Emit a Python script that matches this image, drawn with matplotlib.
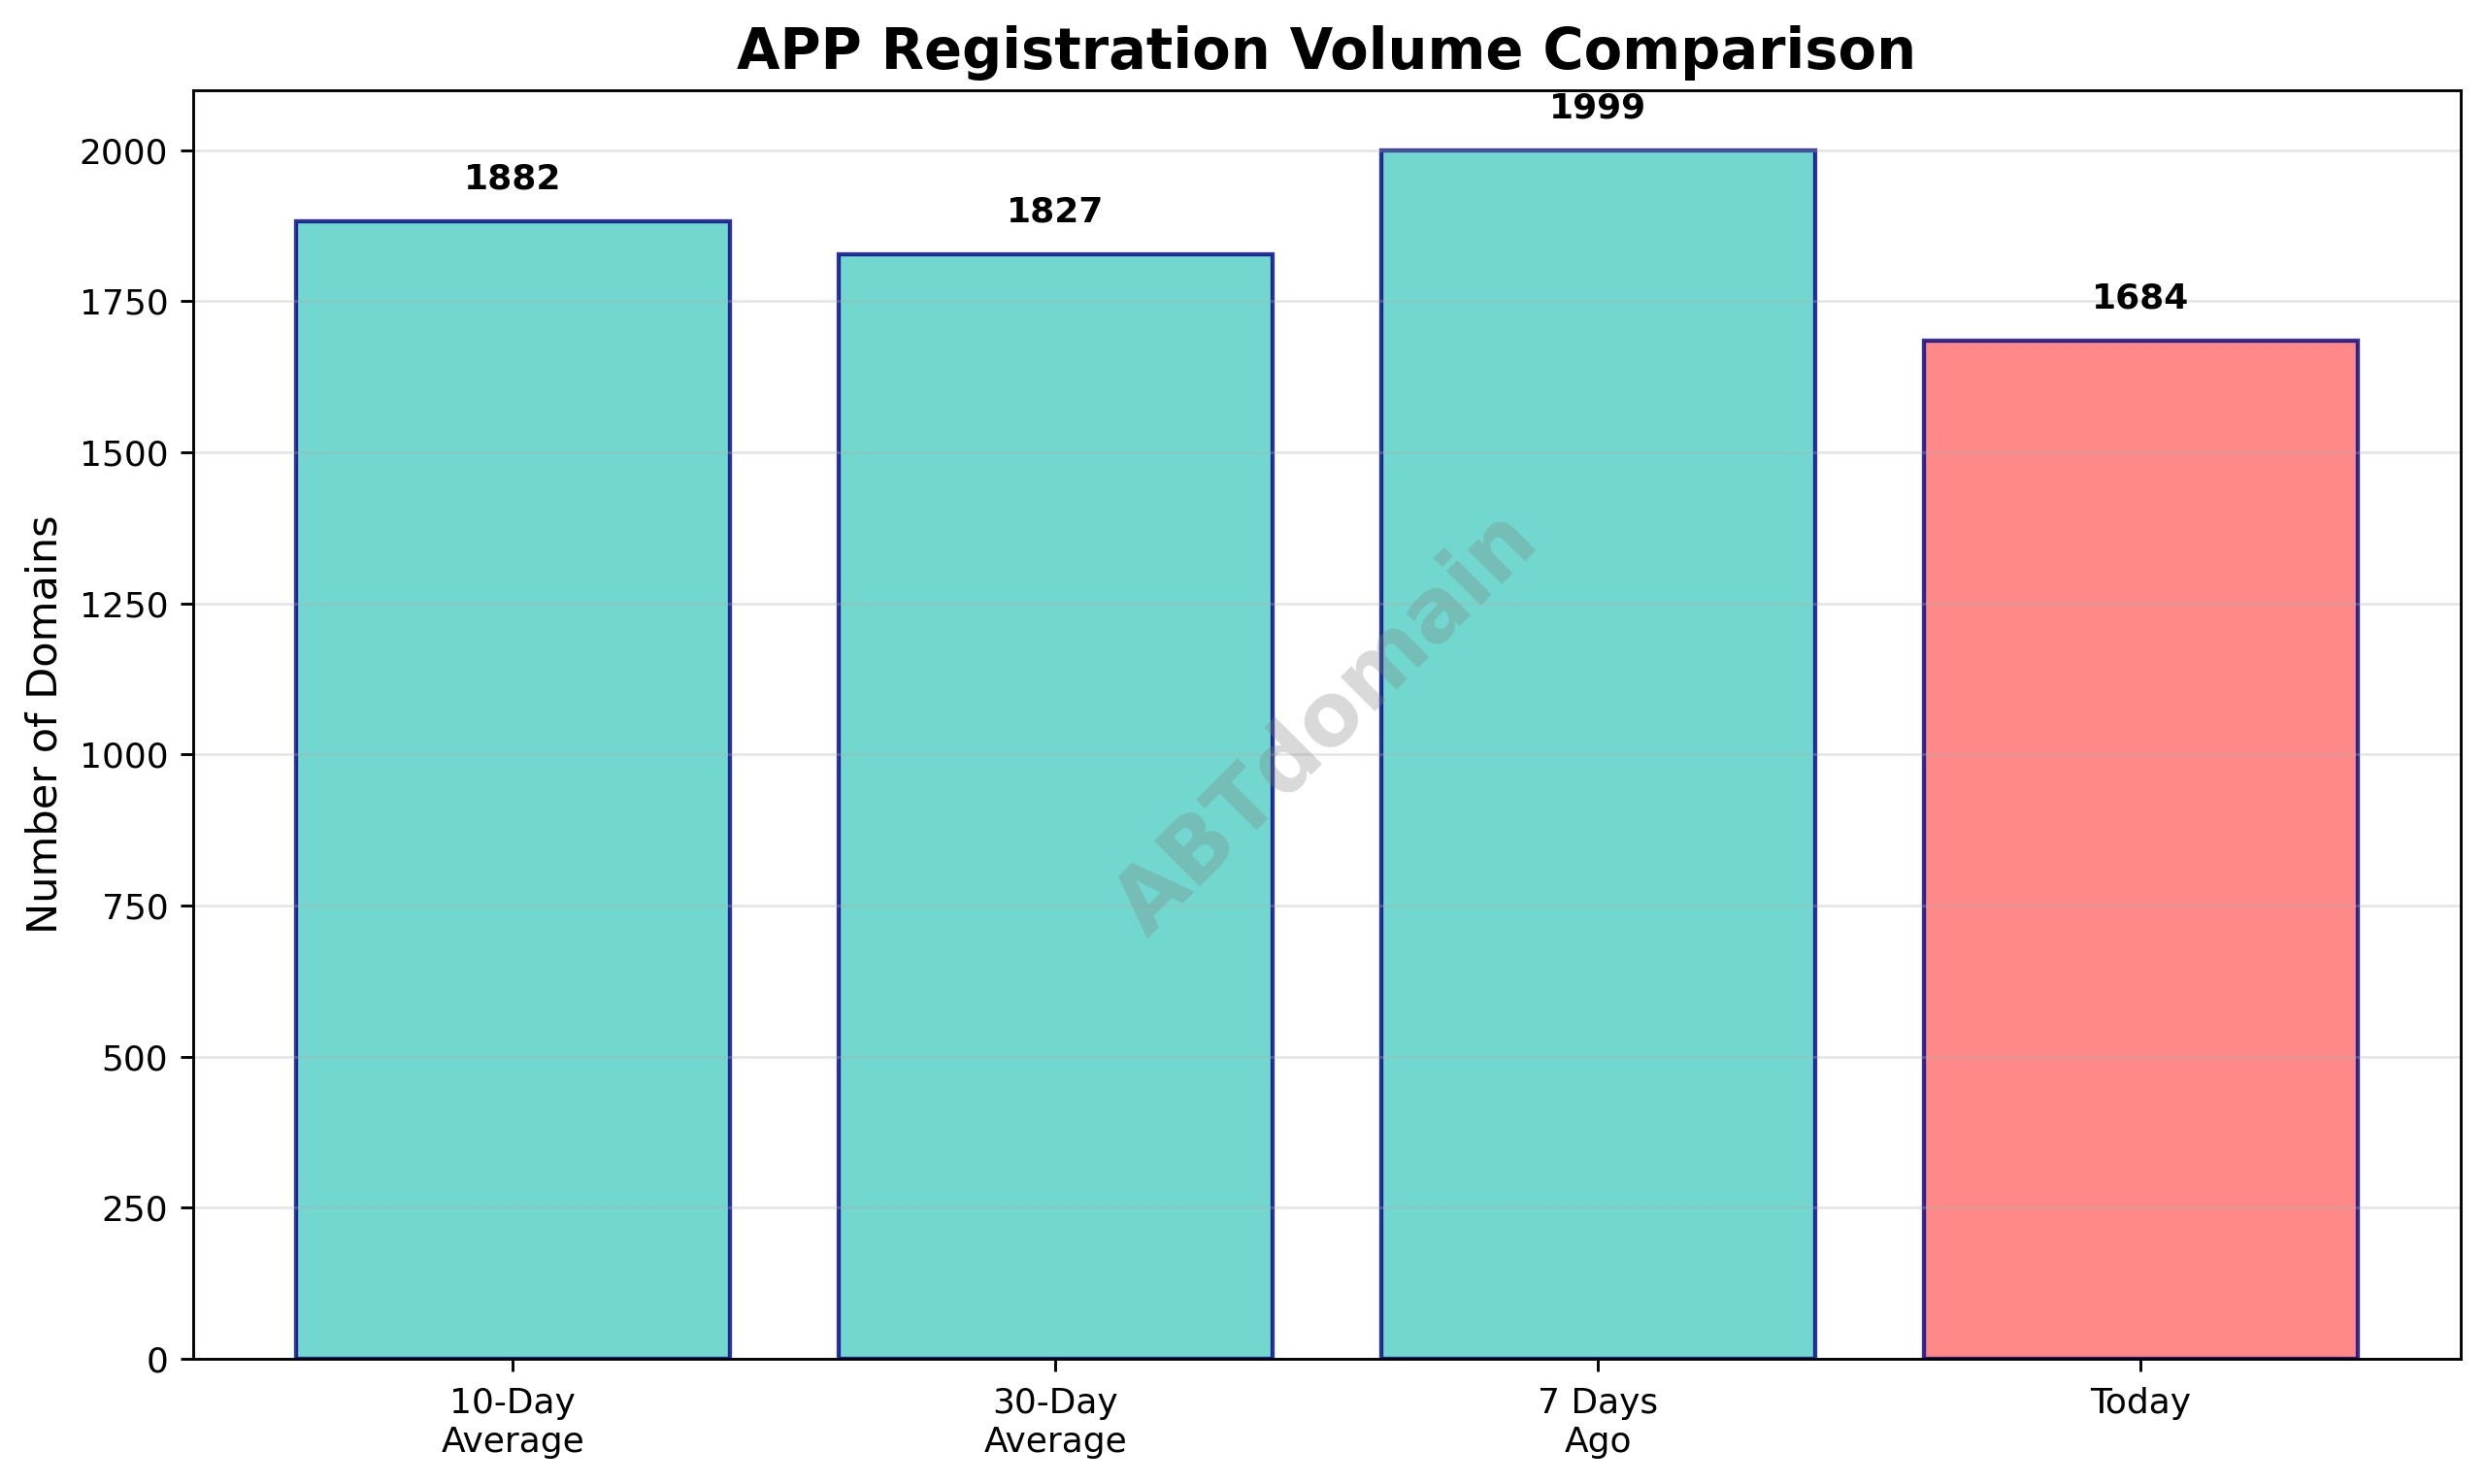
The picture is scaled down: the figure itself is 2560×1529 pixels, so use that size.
import matplotlib
matplotlib.use('Agg')
import matplotlib.pyplot as plt

labels = ['10-Day\nAverage', '30-Day\nAverage', '7 Days\nAgo', 'Today']
values = [1882, 1827, 1999, 1684]
colours = ['#4ECDC4', '#4ECDC4', '#4ECDC4', '#FF6B6B']

DPI = 259

fig = plt.figure(figsize=(2560.1 / DPI, 1529.1 / DPI), dpi=DPI)
ax = fig.add_axes([198.5 / 2560, 129 / 1529, 2336.5 / 2560, 1307 / 1529])

bars = ax.bar(labels, values, color=colours, alpha=0.8, edgecolor='navy', linewidth=1.2)

for bar, value in zip(bars, values):
    ax.text(bar.get_x() + bar.get_width() / 2, value + 43, str(value),
            ha='center', va='bottom', fontweight='bold', fontsize=10)

ax.set_title('APP Registration Volume Comparison', fontsize=16, fontweight='bold')
ax.set_ylabel('Number of Domains', fontsize=12)
ax.set_ylim(0, max(values) * 1.05)
ax.tick_params(axis='x', pad=4.6)
ax.grid(axis='y', alpha=0.3)

# Watermark
ax.text(0.5, 0.5, 'ABTdomain', transform=ax.transAxes, fontsize=25, color='gray',
        alpha=0.3, ha='center', va='center', rotation=45, fontweight='bold')

fig.savefig('out.png', dpi=DPI)
